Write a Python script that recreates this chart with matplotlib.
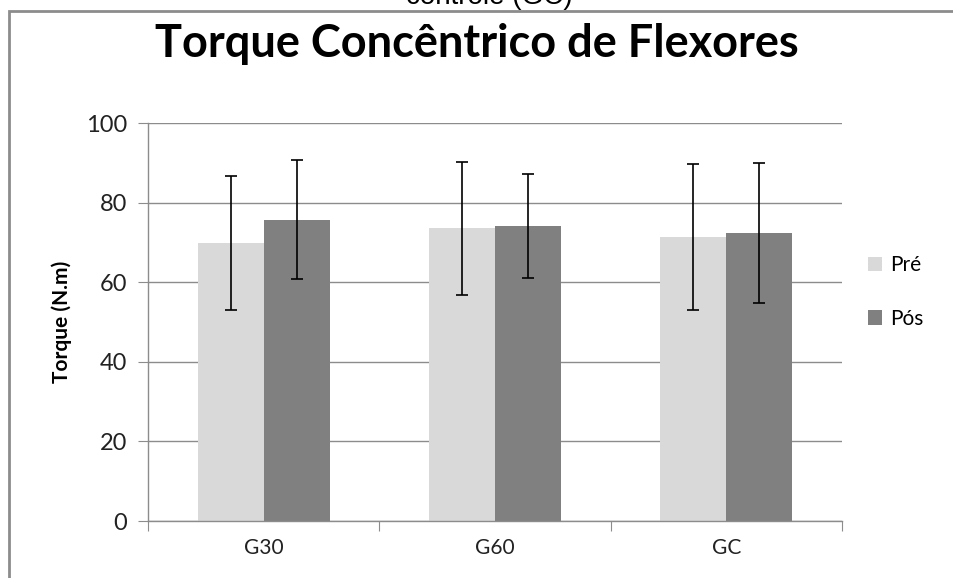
import matplotlib
import numpy as np

matplotlib.use("Agg")
import matplotlib.pyplot as plt
from matplotlib.patches import Rectangle

GROUPS = ["G30", "G60", "GC"]
PRE_MEAN = [69.9, 73.6, 71.3]
PRE_SD = [16.9, 16.7, 18.4]
POS_MEAN = [75.7, 74.1, 72.4]
POS_SD = [15.0, 13.0, 17.6]
SERIES_LABELS = ["Pré", "Pós"]
Y_TICKS = [0, 20, 40, 60, 80, 100]

TITLE = "Torque Concêntrico de Flexores"
Y_LABEL = "Torque (N.m)"
CAPTION_TAIL = "controle (GC)"

PRE_COLOR = "#d9d9d9"
POS_COLOR = "#808080"
LINE_GRAY = "#8c8c8c"
FONT = ["Lato", "DejaVu Sans"]

W, H = 954, 578
fig = plt.figure(figsize=(W / 100, H / 100), dpi=100)

# outer chart frame (cropped at right and bottom)
fig.patches.append(
    Rectangle((9 / W, -0.1), 1.2, (H - 11) / H + 0.1, transform=fig.transFigure,
              fill=False, edgecolor=LINE_GRAY, linewidth=2.0)
)
# tail of a caption line that is cut by the top edge of the crop
fig.text(489 / W, 1 - 4 / H, CAPTION_TAIL, ha="center", va="baseline",
         fontsize=20, family=["Liberation Sans", "DejaVu Sans"], color="black")

ax = fig.add_axes([148 / W, 57 / H, (842 - 148) / W, (521 - 123) / H])

x = np.arange(len(GROUPS))
width = 0.285
err_kw = dict(ecolor="black", elinewidth=1.2, capsize=4.5, capthick=1.2)
ax.bar(x - width / 2, PRE_MEAN, width, yerr=PRE_SD, color=PRE_COLOR,
       label=SERIES_LABELS[0], error_kw=err_kw, zorder=2)
ax.bar(x + width / 2, POS_MEAN, width, yerr=POS_SD, color=POS_COLOR,
       label=SERIES_LABELS[1], error_kw=err_kw, zorder=2)

ax.set_xlim(-0.5, len(GROUPS) - 0.5)
ax.set_ylim(0, 100)
ax.set_yticks(Y_TICKS)
ax.set_yticklabels([str(t) for t in Y_TICKS], family=FONT, fontsize=17, color="#222222")
ax.yaxis.grid(True, color=LINE_GRAY, linewidth=1.0, zorder=0)
ax.set_axisbelow(True)

ax.set_xticks(np.arange(len(GROUPS) + 1) - 0.5)
ax.set_xticklabels([])
ax.set_xticks(x, minor=True)
ax.set_xticklabels(GROUPS, minor=True, family=FONT, fontsize=15, color="#222222")
ax.tick_params(axis="x", which="major", length=7, color=LINE_GRAY, direction="out")
ax.tick_params(axis="x", which="minor", length=0, pad=12)
ax.tick_params(axis="y", length=7, color=LINE_GRAY, direction="out", pad=8)

for side in ["top", "right"]:
    ax.spines[side].set_visible(False)
for side in ["left", "bottom"]:
    ax.spines[side].set_color(LINE_GRAY)
    ax.spines[side].set_linewidth(1.0)

ax.set_ylabel(Y_LABEL, family=FONT, fontsize=15, fontweight="bold", labelpad=10)

fig.text(477 / W, 1 - 44 / H, TITLE, ha="center", va="center",
         fontsize=32.5, fontweight="bold", family=FONT)

ax.legend(loc="center left", bbox_to_anchor=(1.01, 0.575), frameon=False,
          prop={"family": FONT, "size": 15}, handlelength=0.7, handleheight=0.7,
          labelspacing=1.6, handletextpad=0.4)

fig.savefig("out.png", dpi=100)
